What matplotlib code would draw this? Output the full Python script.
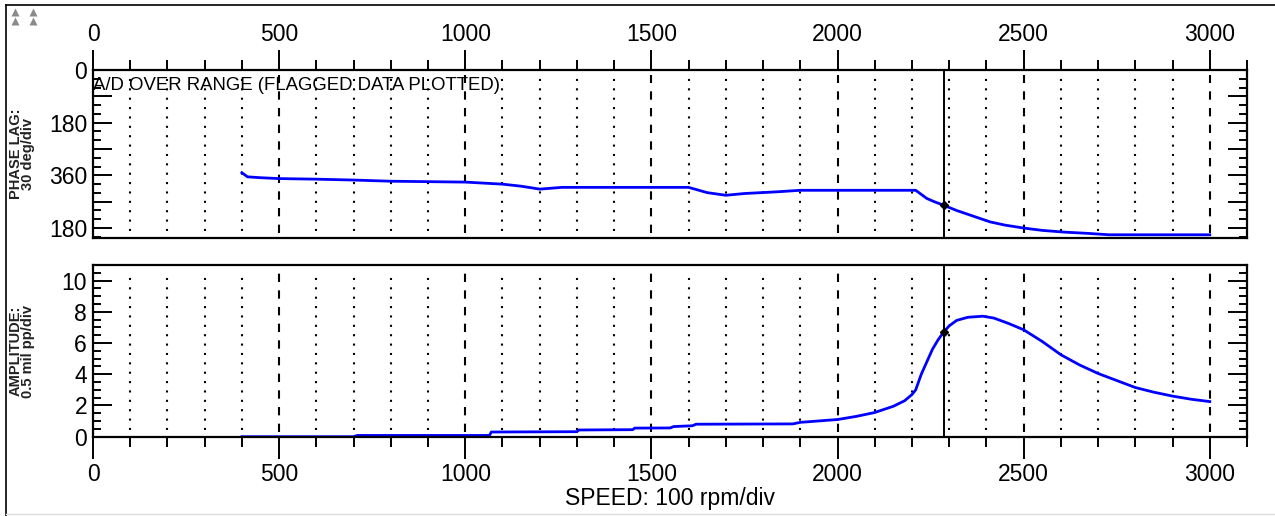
import matplotlib.pyplot as plt
from matplotlib.ticker import MultipleLocator, FixedLocator, FixedFormatter
from matplotlib.lines import Line2D

plt.rcParams['font.family'] = ['Liberation Sans Narrow', 'Liberation Sans', 'DejaVu Sans']

# phase lag (deg, plotted 0 at top, wraps past 360)
phase_rpm = [400, 415, 450, 500, 600, 700, 800, 1000, 1100, 1150, 1200, 1260, 1600,
             1650, 1700, 1750, 1840, 1900, 2210, 2240, 2260, 2285, 2320, 2350, 2410,
             2450, 2500, 2550, 2610, 2670, 2730, 3000]
phase_deg = [351, 365, 368, 371, 373, 376, 380, 383, 390, 397, 407, 401, 401,
             419, 428, 422, 416, 411, 411, 439, 450, 462, 480, 493, 519,
             530, 540, 548, 554, 558, 563, 563]

# amplitude (mil pp)
amp_rpm = [400, 700, 710, 1065, 1070, 1300, 1305, 1450, 1455, 1550, 1560, 1610, 1620, 1880,
           1900, 2000, 2050, 2100, 2150, 2180, 2200, 2210, 2225, 2240, 2255, 2270, 2285,
           2300, 2320, 2350, 2390, 2420, 2460, 2500, 2550, 2600, 2650, 2700, 2750,
           2800, 2850, 2900, 2950, 3000]
amp_mil = [0, 0, 0.08, 0.08, 0.3, 0.32, 0.43, 0.45, 0.55, 0.56, 0.65, 0.7, 0.8, 0.82,
           0.92, 1.1, 1.3, 1.55, 1.95, 2.3, 2.7, 3.0, 4.0, 4.8, 5.6, 6.2, 6.7,
           7.1, 7.45, 7.65, 7.72, 7.6, 7.25, 6.85, 6.1, 5.25, 4.6, 4.05, 3.6,
           3.15, 2.85, 2.6, 2.4, 2.25]

cursor_rpm = 2285
cursor_phase = 462
cursor_amp = 6.7

phase_ticks = [0, 90, 180, 270, 360, 450, 540]
phase_labels = ['0', '', '180', '', '360', '', '180']

W, H = 1275, 516
fig = plt.figure(figsize=(W / 100, H / 100), dpi=100)
ax1 = fig.add_axes([93 / W, 1 - 238 / H, (1247 - 93) / W, (238 - 70) / H])
ax2 = fig.add_axes([93 / W, 1 - 436.7 / H, (1247 - 93) / W, (436.7 - 265) / H])

for ax in (ax1, ax2):
    ax.set_xlim(0, 3100)
    for s in ax.spines.values():
        s.set_linewidth(1.6)
    for x in range(100, 3001, 100):
        if x % 500 == 0:
            ax.axvline(x, color='black', lw=1.5, ls=(0, (4, 4)), ymin=0.03, ymax=0.97)
        else:
            ax.axvline(x, color='black', lw=1.5, ls=(0, (1, 3.5)), ymin=0.04, ymax=0.96)
    ax.axvline(cursor_rpm, color='black', lw=1.4)
    ax.xaxis.set_major_locator(MultipleLocator(500))
    ax.xaxis.set_minor_locator(MultipleLocator(100))
    ax.tick_params(axis='y', which='both', direction='in', left=True, right=True,
                   width=1.4, labelsize=16.5, pad=4.3)
    ax.tick_params(axis='y', which='major', length=14)
    ax.tick_params(axis='y', which='minor', length=6)

# top: phase
ax1.plot(phase_rpm, phase_deg, color='blue', lw=2)
ax1.plot([cursor_rpm], [cursor_phase], marker='D', ms=4, color='black')
ax1.set_ylim(574, 0)
ax1.yaxis.set_major_locator(FixedLocator(phase_ticks))
ax1.yaxis.set_major_formatter(FixedFormatter(phase_labels))
ax1.yaxis.set_minor_locator(MultipleLocator(30))
ax1.tick_params(axis='x', which='both', direction='out', top=True, bottom=False,
                labeltop=True, labelbottom=False, width=1.4, labelsize=16.5, pad=3)
ax1.tick_params(axis='x', which='major', length=14.4)
ax1.tick_params(axis='x', which='minor', length=7)
ax1.text(0, 0.905, 'A/D OVER RANGE (FLAGGED DATA PLOTTED)', transform=ax1.transAxes,
         ha='left', va='center', fontsize=13.4, family=['Liberation Sans', 'DejaVu Sans'])

# bottom: amplitude
ax2.plot(amp_rpm, amp_mil, color='blue', lw=2)
ax2.plot([cursor_rpm], [cursor_amp], marker='D', ms=4, color='black')
ax2.set_ylim(0, 11)
ax2.yaxis.set_major_locator(MultipleLocator(2))
ax2.yaxis.set_minor_locator(MultipleLocator(0.5))
ax2.set_yticks([0, 2, 4, 6, 8, 10])
ax2.tick_params(axis='x', which='both', direction='out', top=False, bottom=True,
                width=1.4, labelsize=16.5, pad=3.5)
ax2.tick_params(axis='x', which='major', length=15.5)
ax2.tick_params(axis='x', which='minor', length=7.5)

lab_font = ['Liberation Sans', 'DejaVu Sans']
fig.text(22 / W, 1 - 154 / H, 'PHASE LAG:\n30 deg/div', rotation=90, ha='center', va='center',
         fontsize=10.5, fontweight='bold', family=lab_font, linespacing=0.85, color='#222222')
fig.text(22 / W, 1 - 351 / H, 'AMPLITUDE:\n0.5 mil pp/div', rotation=90, ha='center', va='center',
         fontsize=10.5, fontweight='bold', family=lab_font, linespacing=0.85, color='#222222')
fig.text(670 / W, 1 - 499 / H, 'SPEED: 100 rpm/div', ha='center', va='center', fontsize=16.5)

# window frame and corner glyphs
fig.add_artist(Line2D([6 / W, 6 / W], [0, 1 - 5 / H], color='black', lw=1.2))
fig.add_artist(Line2D([6 / W, 1], [1 - 5 / H, 1 - 5 / H], color='black', lw=1.2))
fig.add_artist(Line2D([6 / W, 1], [1 - 514 / H, 1 - 514 / H], color='#dddddd', lw=1))
for gx in (15, 33):
    fig.add_artist(Line2D([gx / W, gx / W], [1 - 12 / H, 1 - 21 / H], ls='none',
                          marker='^', ms=6, color='#8a8a8a', mec='none'))

plt.savefig('out.png', dpi=100)
